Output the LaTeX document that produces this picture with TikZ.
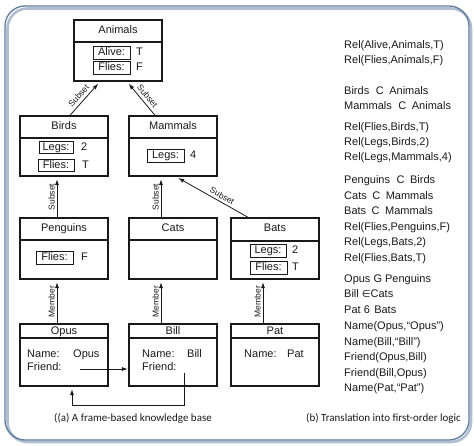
\documentclass[tikz,border=0pt]{standalone}
\usepackage{fontspec}
\setmainfont{Liberation Sans}
\newfontfamily\capfont{Carlito}
\newfontfamily\symfont{DejaVu Sans}
\usetikzlibrary{arrows.meta}
\definecolor{framec}{RGB}{96,124,158}
\definecolor{shadowc}{RGB}{175,190,208}
\definecolor{inkc}{RGB}{25,25,25}
\begin{document}
\begin{tikzpicture}[x=1pt,y=-1pt,
  frame/.style={draw=inkc, line width=1.4pt, minimum width=88pt, inner sep=0pt},
  divider/.style={draw=inkc, line width=1.1pt},
  slot/.style={draw=inkc, line width=0.7pt, minimum width=36pt, minimum height=12.5pt, inner sep=0pt,
    text height=8pt, text depth=2.3pt, font=\fontsize{11}{11}\selectfont, text=inkc},
  txt/.style={inner sep=0pt, text height=8pt, text depth=2.3pt, font=\fontsize{11}{11}\selectfont, text=inkc},
  lbl/.style={inner sep=0.5pt, font=\fontsize{8.5}{9}\selectfont, sloped, text=inkc},
  link/.style={draw=inkc, line width=0.8pt, -{Latex[length=6pt,width=4pt]}, shorten >=2.5pt},
  logic/.style={anchor=base west, inner sep=0pt, font=\fontsize{11}{13}\selectfont, text=inkc},
  caption/.style={inner sep=0pt, font=\capfont\fontsize{11}{13}\selectfont, text=inkc}
]
\useasboundingbox (0,0) rectangle (474,446);
% outer frame
\draw[line width=2.6pt, draw=shadowc, rounded corners=20pt] (7.5,8.5) rectangle (471,442);
\draw[line width=1.3pt, draw=framec, rounded corners=20pt] (5,6) rectangle (469,440);

% frames
\node[frame, minimum height=61pt] (animals) at (118,50.5) {};
\node[frame, minimum height=60pt] (birds) at (64,146) {};
\node[frame, minimum height=60pt] (mammals) at (173,146) {};
\node[frame, minimum height=61pt] (penguins) at (64,248.5) {};
\node[frame, minimum height=61pt] (cats) at (173,248.5) {};
\node[frame, minimum height=61pt] (bats) at (275,248.5) {};
\node[frame, minimum height=62pt] (opus) at (64,355) {};
\node[frame, minimum height=62pt] (bill) at (173,355) {};
\node[frame, minimum height=62pt] (pat) at (275,355) {};

\draw[divider] (animals.west |- 0,42) -- (animals.east |- 0,42);
\draw[divider] (birds.west |- 0,138) -- (birds.east |- 0,138);
\draw[divider] (mammals.west |- 0,138) -- (mammals.east |- 0,138);
\draw[divider] (penguins.west |- 0,240) -- (penguins.east |- 0,240);
\draw[divider] (cats.west |- 0,240) -- (cats.east |- 0,240);
\draw[divider] (bats.west |- 0,241) -- (bats.east |- 0,241);
\draw[divider] (opus.west |- 0,338) -- (opus.east |- 0,338);
\draw[divider] (bill.west |- 0,338) -- (bill.east |- 0,338);
\draw[divider] (pat.west |- 0,338) -- (pat.east |- 0,338);

% titles
\node[txt] (animalsT) at (118,30.5) {Animals};
\node[txt] (birdsT) at (64,127) {Birds};
\node[txt] (mammalsT) at (173,127) {Mammals};
\node[txt] (penguinsT) at (64,229) {Penguins};
\node[txt] (catsT) at (173,229) {Cats};
\node[txt] (batsT) at (275,229) {Bats};
\node[txt] (opusT) at (64,331.5) {Opus};
\node[txt] (billT) at (173,331.5) {Bill};
\node[txt] (patT) at (275,331.5) {Pat};

% slots
\node[slot, minimum width=37pt] (aliveS) at (111.5,53) {Alive:};
\node[txt, anchor=west] (aliveV) at (136,53) {T};
\node[slot, minimum width=37pt] (fliesA) at (111.5,68) {Flies:};
\node[txt, anchor=west] (fliesAV) at (136,68) {F};

\node[slot, minimum width=34pt] (legsB) at (56,147.5) {Legs:};
\node[txt, anchor=west] (legsBV) at (81,147.5) {2};
\node[slot, minimum width=36pt] (fliesB) at (56,165.5) {Flies:};
\node[txt, anchor=west] (fliesBV) at (82,165.5) {T};

\node[slot, minimum width=37pt] (legsM) at (165.5,156) {Legs:};
\node[txt, anchor=west] (legsMV) at (190,156) {4};

\node[slot, minimum width=37pt] (fliesP) at (54.5,258) {Flies:};
\node[txt, anchor=west] (fliesPV) at (81,258) {F};

\node[slot, minimum width=36pt] (legsBa) at (268,251) {Legs:};
\node[txt, anchor=west] (legsBaV) at (292,251) {2};
\node[slot, minimum width=37pt] (fliesBa) at (268.5,268) {Flies:};
\node[txt, anchor=west] (fliesBaV) at (292,268) {T};

% instance slots
\node[txt, anchor=west] (opusN) at (27,355) {Name:};
\node[txt, anchor=west] (opusNV) at (73,355) {Opus};
\node[txt, anchor=west] (opusF) at (27,368) {Friend:};
\node[txt, anchor=west] (billN) at (142,355) {Name:};
\node[txt, anchor=west] (billNV) at (187,355) {Bill};
\node[txt, anchor=west] (billF) at (142,368) {Friend:};
\node[txt, anchor=west] (patN) at (244,355) {Name:};
\node[txt, anchor=west] (patNV) at (287,355) {Pat};

% subset / member links
\draw[link] ([xshift=6pt]birds.north) -- node[lbl, above=2.5pt, pos=0.45] {Subset} ([xshift=-18pt]animals.south);
\draw[link] ([xshift=-18pt]mammals.north) -- node[lbl, above=2.5pt, pos=0.45] {Subset} ([xshift=9pt]animals.south);
\draw[link] ([xshift=-7pt]penguins.north) -- node[lbl, above=1.5pt] {Subset} ([xshift=-7pt]birds.south);
\draw[link] ([xshift=-12pt]cats.north) -- node[lbl, above=1.5pt] {Subset} ([xshift=-12pt]mammals.south);
\draw[link] ([xshift=-27pt]bats.north) -- node[lbl, above=2pt, pos=0.4] {Subset} ([xshift=3pt]mammals.south);
\draw[link] ([xshift=-7pt]opus.north) -- node[lbl, above=1.5pt] {Member} ([xshift=-7pt]penguins.south);
\draw[link] ([xshift=-12pt]bill.north) -- node[lbl, above=1.5pt] {Member} ([xshift=-12pt]cats.south);
\draw[link] ([xshift=-12pt]pat.north) -- node[lbl, above=1.5pt] {Member} ([xshift=-12pt]bats.south);

% friend links
\coordinate (of) at (80,369);
\draw[link, shorten >=0.5pt] (of) -- (of -| bill.west);
\coordinate (bf) at (184,373);
\coordinate (lp) at (72,405);
\draw[link] (bf) |- (lp) -- (lp |- opus.south);

% captions
\node[caption] (capA) at (133,418) {((a) A frame-based knowledge base};
\node[caption] (capB) at (383.5,418) {(b) Translation into first-order logic};

% logic column
\node[logic] (l1) at (344,49) {Rel(Alive,Animals,T)};
\node[logic] (l2) at (344,64) {Rel(Flies,Animals,F)};
\node[logic] (l3) at (344,95) {Birds\hspace{0.6em}C\hspace{0.5em}Animals};
\node[logic] (l4) at (344,109.5) {Mammals\hspace{0.6em}C\hspace{0.5em}Animals};
\node[logic] (l5) at (344,131) {Rel(Flies,Birds,T)};
\node[logic] (l6) at (344,146) {Rel(Legs,Birds,2)};
\node[logic] (l7) at (344,161) {Rel(Legs,Mammals,4)};
\node[logic] (l8) at (344,184) {Penguins\hspace{0.6em}C\hspace{0.5em}Birds};
\node[logic] (l9) at (344,199.5) {Cats\hspace{0.5em}C\hspace{0.5em}Mammals};
\node[logic] (l10) at (344,215) {Bats\hspace{0.5em}C\hspace{0.5em}Mammals};
\node[logic] (l11) at (344,231) {Rel(Flies,Penguins,F)};
\node[logic] (l12) at (344,246) {Rel(Legs,Bats,2)};
\node[logic] (l13) at (344,261.5) {Rel(Flies,Bats,T)};
\node[logic] (l14) at (344,283) {Opus G Penguins};
\node[logic] (l15) at (344,298) {Bill {\symfont\fontsize{10}{12}\selectfont ∈}Cats};
\node[logic] (l16) at (344,313.5) {Pat 6\hspace{0.4em}Bats};
\node[logic] (l17) at (344,329.5) {Name(Opus,“Opus”)};
\node[logic] (l18) at (344,345) {Name(Bill,“Bill”)};
\node[logic] (l19) at (344,360.5) {Friend(Opus,Bill)};
\node[logic] (l20) at (344,376) {Friend(Bill,Opus)};
\node[logic] (l21) at (344,391) {Name(Pat,“Pat”)};
\end{tikzpicture}
\end{document}
